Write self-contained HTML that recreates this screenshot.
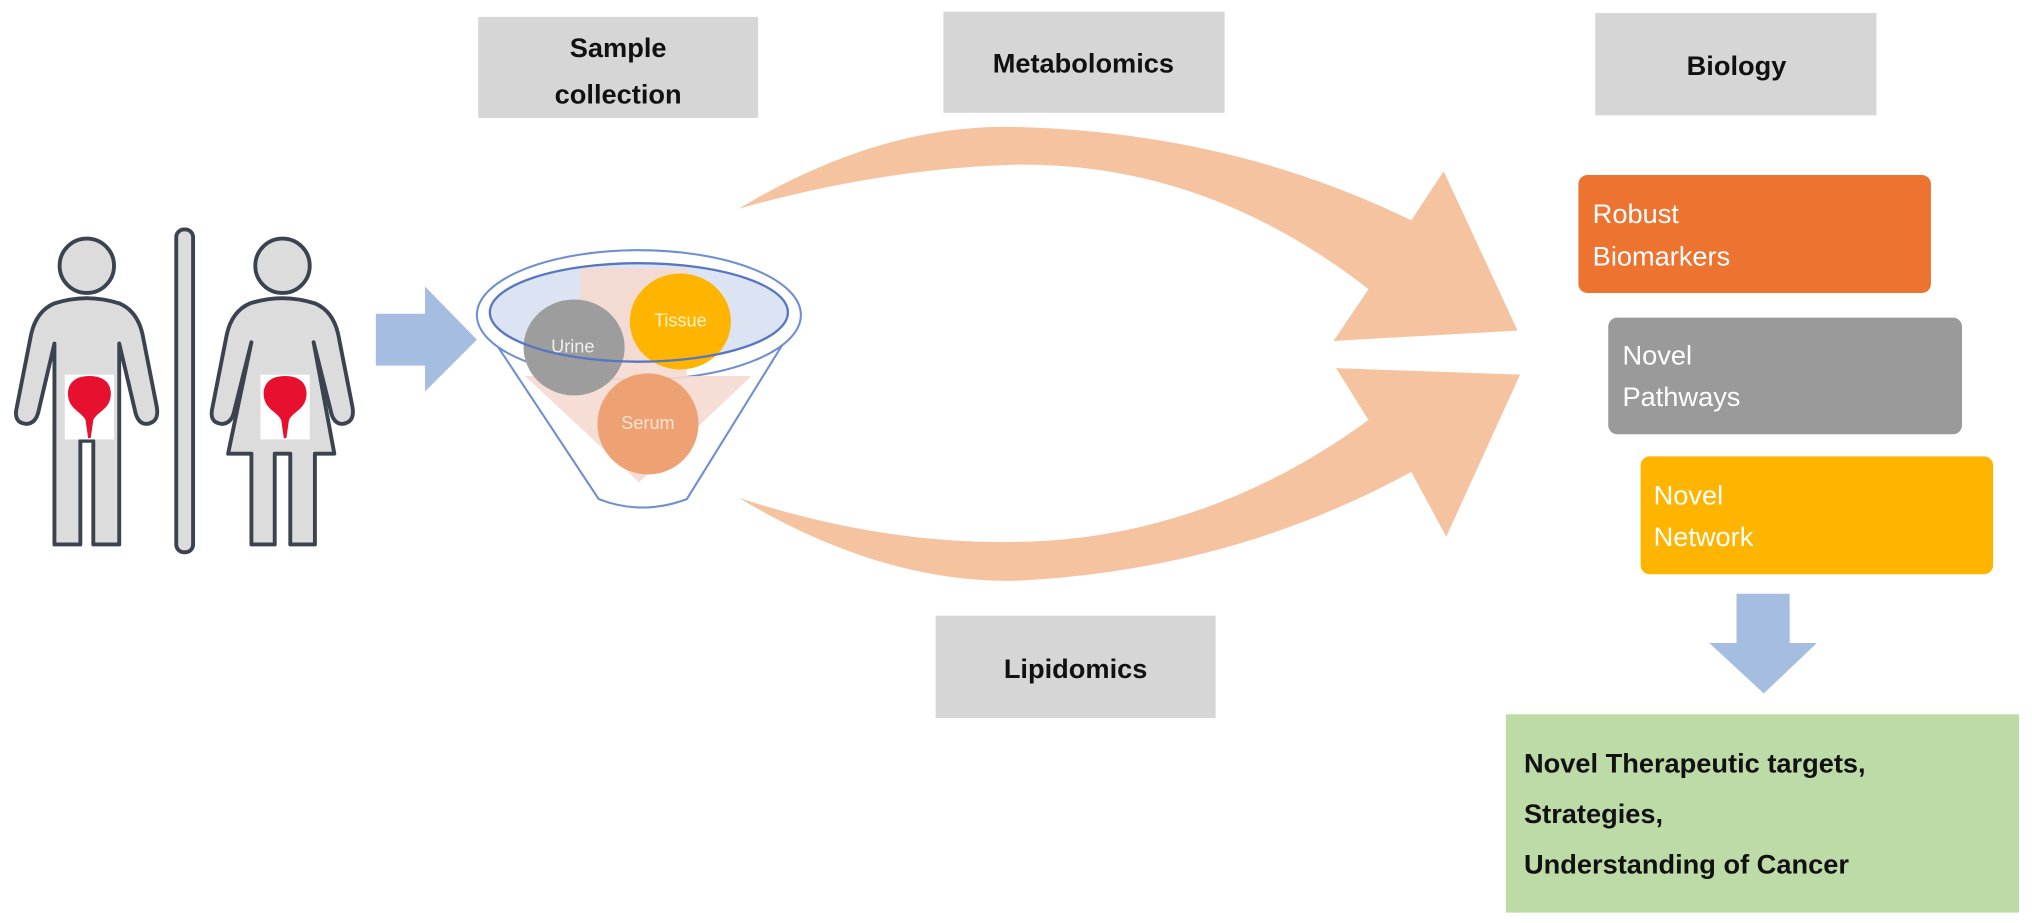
<!DOCTYPE html>
<html><head><meta charset="utf-8"><style>
html,body{margin:0;padding:0;background:#fff;}
svg{display:block;}
text{font-family:"Liberation Sans",sans-serif;}
</style></head><body>
<svg width="2032" height="923" viewBox="0 0 1568 712" preserveAspectRatio="none" xmlns="http://www.w3.org/2000/svg">
<!-- label boxes -->
<rect x="369" y="13" width="216" height="78" fill="#d6d6d6"/>
<text x="477" y="44" font-size="21" font-weight="bold" text-anchor="middle" fill="#111">Sample</text>
<text x="477" y="80" font-size="21" font-weight="bold" text-anchor="middle" fill="#111">collection</text>
<rect x="728" y="9" width="217" height="78" fill="#d6d6d6"/>
<text x="836" y="56" font-size="21" font-weight="bold" text-anchor="middle" fill="#111">Metabolomics</text>
<rect x="1231" y="10" width="217" height="79" fill="#d6d6d6"/>
<text x="1340" y="58" font-size="21" font-weight="bold" text-anchor="middle" fill="#111">Biology</text>
<rect x="722" y="475" width="216" height="79" fill="#d6d6d6"/>
<text x="830" y="523" font-size="21" font-weight="bold" text-anchor="middle" fill="#111">Lipidomics</text>

<!-- people -->
<g fill="#dcdcdc" stroke="#3c4350" stroke-width="3" stroke-linejoin="round">
  <circle cx="67" cy="205" r="21"/>
  <path d="M42,234 Q67,226 92,234 Q106,240 110,258 L121,314 Q123,326 113,327 Q106,327 104,316 L92,265 L92,420 L72,420 L72,340 L62,340 L62,420 L42,420 L42,265 L30,316 Q28,327 20,327 Q10,326 13,314 L24,258 Q28,240 42,234 Z"/>
  <rect x="136" y="177" width="13" height="249" rx="6"/>
  <circle cx="218" cy="205" r="21"/>
  <path d="M193,234 Q218,226 243,234 Q257,240 261,258 L272,314 Q274,326 264,327 Q257,327 255,316 L242,264 L258,350 L243,350 L243,420 L224,420 L224,350 L212,350 L212,420 L194,420 L194,350 L176,350 L194,264 L181,316 Q179,327 171,327 Q161,326 164,314 L175,258 Q179,240 193,234 Z"/>
</g>
<!-- bladders -->
<rect x="50" y="289" width="38" height="50" fill="#fff"/>
<path d="M69,290 C54,290 51,300 53,308 C55,316 63,318 66,324 L68,338 L70,338 L72,324 C75,318 83,316 85,308 C87,300 84,290 69,290 Z" fill="#e8102f"/>
<rect x="201" y="289" width="38" height="50" fill="#fff"/>
<path d="M220,290 C205,290 202,300 204,308 C206,316 214,318 217,324 L219,338 L221,338 L223,324 C226,318 234,316 236,308 C238,300 235,290 220,290 Z" fill="#e8102f"/>

<!-- blue arrow -->
<polygon points="290,242 328,242 328,221 368,262 328,302 328,282 290,282" fill="#a5bde0"/>

<!-- funnel -->
<path d="M368,243 L462,385 Q495,398 530,385 L618,243" fill="#fff" stroke="#6f8fd0" stroke-width="1.6"/>
<ellipse cx="493" cy="243" rx="125" ry="50" fill="#fff" stroke="#6f8fd0" stroke-width="1.6"/>
<ellipse cx="493" cy="241" rx="115" ry="38" fill="#dce3f2"/>
<polygon points="448,207 530,207 530,290 580,290 493,372 405,290 448,290" fill="#f5d9d0" opacity="0.9"/>
<ellipse cx="443" cy="268" rx="39" ry="37" fill="#9d9d9d"/>
<ellipse cx="525" cy="248" rx="39" ry="37" fill="#ffb400"/>
<ellipse cx="500" cy="327" rx="39" ry="39" fill="#eea274"/>
<ellipse cx="493" cy="241" rx="115" ry="38" fill="none" stroke="#5877c0" stroke-width="1.8"/>
<text x="442" y="272" font-size="14" fill="#eee" text-anchor="middle">Urine</text>
<text x="525" y="252" font-size="14" fill="#fff3d0" text-anchor="middle">Tissue</text>
<text x="500" y="331" font-size="14" fill="#fbe3d3" text-anchor="middle">Serum</text>

<!-- big arrows -->
<path d="M570,161 Q680,95 784,98 Q950,102 1089,170 L1114,132 L1171,255 L1029,263 L1056,223 Q930,125 784,127 Q680,130 570,161 Z" fill="#f5c3a0"/>
<path d="M570,384 Q680,450 784,448 Q950,440 1089,364 L1116,414 L1173,289 L1031,284 L1056,324 Q930,416 784,418 Q680,420 570,384 Z" fill="#f5c3a0"/>

<!-- biology boxes -->
<rect x="1218" y="135" width="272" height="91" rx="7" fill="#ec7330"/>
<text x="1229" y="172" font-size="21" fill="#fff">Robust</text>
<text x="1229" y="205" font-size="21" fill="#fff">Biomarkers</text>
<rect x="1241" y="245" width="273" height="90" rx="7" fill="#9a9a9a"/>
<text x="1252" y="281" font-size="21" fill="#fff">Novel</text>
<text x="1252" y="313" font-size="21" fill="#fff">Pathways</text>
<rect x="1266" y="352" width="272" height="91" rx="7" fill="#ffb400"/>
<text x="1276" y="389" font-size="21" fill="#fff">Novel</text>
<text x="1276" y="421" font-size="21" fill="#fff">Network</text>

<!-- down arrow -->
<polygon points="1340,458 1381,458 1381,496 1402,496 1361,535 1319,496 1340,496" fill="#a5bde0"/>

<!-- green box -->
<rect x="1162" y="551" width="396" height="153" fill="#bddba6"/>
<text x="1176" y="596" font-size="21" font-weight="bold" fill="#111">Novel Therapeutic targets,</text>
<text x="1176" y="635" font-size="21" font-weight="bold" fill="#111">Strategies,</text>
<text x="1176" y="674" font-size="21" font-weight="bold" fill="#111">Understanding of Cancer</text>
</svg>
</body></html>
